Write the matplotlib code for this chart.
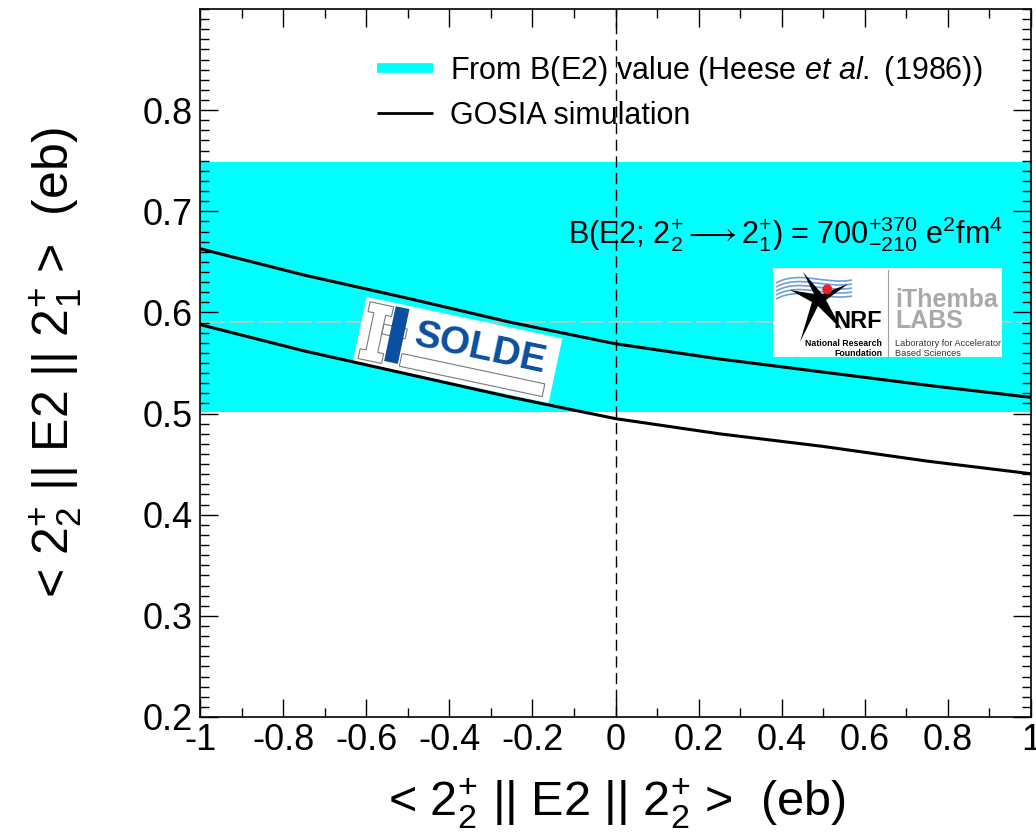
import numpy as np
import matplotlib
matplotlib.use("Agg")
import matplotlib.pyplot as plt
from matplotlib.lines import Line2D
from matplotlib.patches import Polygon, Rectangle, Circle, PathPatch
from matplotlib.path import Path
from matplotlib.transforms import Affine2D
from matplotlib.ticker import MultipleLocator

# ---------------- data ----------------
x_pts = [-1.0, -0.75, -0.5, -0.25, 0.0, 0.25, 0.5, 0.75, 1.0]
upper_curve = [0.663, 0.637, 0.614, 0.590, 0.569, 0.554, 0.541, 0.528, 0.516]
lower_curve = [0.588, 0.562, 0.539, 0.516, 0.495, 0.480, 0.4675, 0.453, 0.4405]
band_low, band_high = 0.502, 0.749
band_center = 0.591
x_ticks = [-1, -0.8, -0.6, -0.4, -0.2, 0, 0.2, 0.4, 0.6, 0.8, 1]
x_tick_labels = ["-1", "-0.8", "-0.6", "-0.4", "-0.2", "0", "0.2", "0.4", "0.6", "0.8", "1"]
y_ticks = [0.2, 0.3, 0.4, 0.5, 0.6, 0.7, 0.8]
y_tick_labels = ["0.2", "0.3", "0.4", "0.5", "0.6", "0.7", "0.8"]
legend_labels = ["From B(E2) value (Heese $\\mathit{et\\ al.}$ (1986))", "GOSIA simulation"]

# ---------------- style ----------------
plt.rcParams['font.family'] = ['Liberation Sans', 'DejaVu Sans']
plt.rcParams['mathtext.fontset'] = 'custom'
plt.rcParams['mathtext.rm'] = 'Liberation Sans'
plt.rcParams['mathtext.it'] = 'Liberation Sans:italic'
plt.rcParams['mathtext.bf'] = 'Liberation Sans:bold'
plt.rcParams['axes.unicode_minus'] = False

W, H = 1036, 835
fig = plt.figure(figsize=(W / 100, H / 100), dpi=100)
L, R, T, B = 200, 1031, 9, 717
ax = fig.add_axes([L / W, (H - B) / H, (R - L) / W, (B - T) / H])
pix = Affine2D().scale(1 / W, -1 / H).translate(0, 1) + fig.transFigure

ax.set_xlim(-1, 1)
ax.set_ylim(0.2, 0.9)

# band
ax.axhspan(band_low, band_high, color='#00ffff', lw=0, zorder=1)
ax.axhline(band_center, color='#9fcfc6', lw=1.5, dashes=(12, 2), zorder=1.5)

# vertical dashed line at 0
ax.axvline(0, color='black', lw=1.0, dashes=(8, 4), zorder=4)

# curves
ax.plot(x_pts, upper_curve, color='black', lw=2.2, zorder=5)
ax.plot(x_pts, lower_curve, color='black', lw=2.2, zorder=5)

# ---------------- ISOLDE logo (decorative) ----------------
cx, cy = 457.6, 350.0
rot = Affine2D().rotate_deg_around(cx, cy, 12.0)
def rpts(pts):
    return rot.transform(np.array(pts, dtype=float))
box = rpts([(357.6, 317), (557.6, 317), (557.6, 383), (357.6, 383)])
ax.add_patch(Polygon(box, closed=True, facecolor='white', edgecolor='none',
                     transform=pix, zorder=3))
ibeam = rpts([(362, 321), (386, 321), (386, 331), (380, 331), (380, 369), (386, 369),
              (386, 379), (362, 379), (362, 369), (368, 369), (368, 331), (362, 331)])
ax.add_patch(Polygon(ibeam, closed=True, facecolor='none', edgecolor='#7a7a7a',
                     lw=0.8, transform=pix, zorder=3.1))
ax.add_patch(Polygon(rpts([(380, 340), (404, 340), (404, 350), (380, 350)]), closed=True,
                     facecolor='none', edgecolor='#7a7a7a', lw=0.8, transform=pix, zorder=3.1))
ax.add_patch(Polygon(rpts([(404, 365), (550, 365), (550, 378), (404, 378)]), closed=True,
                     facecolor='none', edgecolor='#7a7a7a', lw=0.8, transform=pix, zorder=3.1))
ax.add_patch(Polygon(rpts([(388, 320), (402, 320), (402, 376), (388, 376)]), closed=True,
                     facecolor='#0b4fa0', edgecolor='none', transform=pix, zorder=3.2))
tx, ty = rot.transform((480, 344))
ax.text(tx, ty, "SOLDE", transform=pix, rotation=-12, rotation_mode='anchor',
        ha='center', va='center', fontsize=28, fontweight='heavy',
        color='#0b4fa0', zorder=3.3)

# ---------------- NRF / iThemba logo (decorative) ----------------
ax.add_patch(Rectangle((773, 268), 229, 89, facecolor='white', edgecolor='none',
                       transform=pix, zorder=3))
for k in range(5):
    off = k * 4.0
    verts = [(776, 283 + off), (800, 270 + off), (825, 285 + off), (852, 280 + off)]
    ax.add_patch(PathPatch(Path(verts, [Path.MOVETO, Path.CURVE4, Path.CURVE4, Path.CURVE4]),
                           facecolor='none', edgecolor='#6f9fd8', lw=1.2,
                           transform=pix, zorder=3.1))
star = [(803, 272), (822, 294), (848, 284), (826, 300), (842, 330),
        (818, 306), (800, 342), (812, 302), (790, 290), (814, 294)]
ax.add_patch(Polygon(star, closed=True, facecolor='black', edgecolor='none',
                     transform=pix, zorder=3.2))
ax.add_patch(Circle((827.3, 289.3), 5, facecolor='#e8202a', edgecolor='none',
                    transform=pix, zorder=3.3))
ax.text(882, 328, "NRF", transform=pix, ha='right', va='baseline', fontsize=17,
        fontweight='bold', color='black', zorder=3.3)
ax.plot([888, 888], [270, 356], color='#a0a0a0', lw=0.8, transform=pix, zorder=3.2)
ax.text(895, 307, "iThemba", transform=pix, ha='left', va='baseline', fontsize=18,
        fontweight='bold', color='#a9a9a9', zorder=3.3)
ax.text(895, 328, "LABS", transform=pix, ha='left', va='baseline', fontsize=18,
        fontweight='bold', color='#a9a9a9', zorder=3.3)
ax.text(882, 345.5, "National Research", transform=pix, ha='right', va='baseline',
        fontsize=6.3, fontweight='bold', color='black', zorder=3.3)
ax.text(882, 355.5, "Foundation", transform=pix, ha='right', va='baseline',
        fontsize=6.3, fontweight='bold', color='black', zorder=3.3)
ax.text(895, 345.5, "Laboratory for Accelerator", transform=pix, ha='left', va='baseline',
        fontsize=6.6, color='#333333', zorder=3.3)
ax.text(895, 355.5, "Based Sciences", transform=pix, ha='left', va='baseline',
        fontsize=6.6, color='#333333', zorder=3.3)

# ---------------- annotation ----------------
ax.text(568, 244, "B(E2; 2$^{+}_{2}$$\\longrightarrow$2$^{+}_{1}$) = 700$^{+370}_{-210}$ e$^{2}$fm$^{4}$",
        transform=pix, ha='left', va='baseline', fontsize=22, color='black', zorder=6)

# ---------------- legend ----------------
handles = [Line2D([], [], color='#00ffff', lw=7, solid_capstyle='butt'),
           Line2D([], [], color='black', lw=2.0, solid_capstyle='butt')]
leg = ax.legend(handles, legend_labels, loc='upper left',
                bbox_to_anchor=((377 - L) / (R - L), (B - 54) / (B - T)),
                frameon=False, fontsize=22, handlelength=1.83, handletextpad=0.55,
                labelspacing=0.41, borderpad=0, borderaxespad=0)
leg.set_zorder(7)

# ---------------- axes, ticks ----------------
ax.set_xticks(x_ticks)
ax.set_xticklabels(x_tick_labels)
ax.set_yticks(y_ticks)
ax.set_yticklabels(y_tick_labels)
ax.xaxis.set_minor_locator(MultipleLocator(0.1))
ax.yaxis.set_minor_locator(MultipleLocator(0.01))
ax.tick_params(which='both', direction='in', top=True, right=True, color='black')
ax.tick_params(which='major', length=13, width=1.0, labelsize=26)
ax.tick_params(which='minor', length=6.5, width=1.0)
ax.tick_params(axis='x', which='major', pad=4)
ax.tick_params(axis='y', which='major', pad=5)
for s in ax.spines.values():
    s.set_linewidth(1.2)
    s.set_zorder(8)

fig.text(617 / W, 1 - 816 / H, "< 2$^{+}_{2}$ || E2 || 2$^{+}_{2}$ >  (eb)",
         ha='center', va='baseline', fontsize=35)
fig.text(56 / W, 1 - 363 / H, "< 2$^{+}_{2}$ || E2 || 2$^{+}_{1}$ >  (eb)",
         ha='center', va='center', rotation=90, fontsize=36)

fig.savefig("out.png", dpi=100)
